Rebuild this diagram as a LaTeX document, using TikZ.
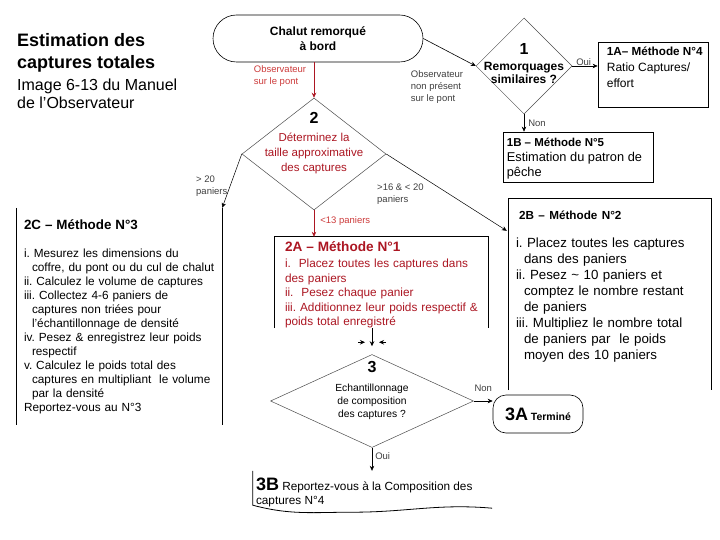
\documentclass[tikz,border=0pt]{standalone}
\usepackage{fontspec}
\setmainfont{Liberation Sans}
\usetikzlibrary{positioning, arrows.meta, calc, shapes.geometric, shapes.misc}
\definecolor{methred}{RGB}{172,22,34}
\definecolor{notered}{RGB}{205,60,60}
\newcommand{\fsz}[2]{\fontsize{#1}{#2}\selectfont}
\newcommand{\ind}{\hspace*{8pt}}
\frenchspacing

\begin{document}
\begin{tikzpicture}[x=1pt, y=-1pt, >={Stealth[length=5pt, width=4.5pt]},
  every node/.append style={inner sep=0pt},
  decision/.style={diamond, draw=black!70, line width=0.5pt},
  methbox/.style={draw, line width=0.7pt},
  btext/.style={anchor=north west, align=left},
  note/.style={font=\fsz{9.5}{12}, align=left, text=black!75},
  flow/.style={->, line width=0.6pt},
  redflow/.style={->, line width=0.6pt, draw=methred}]
  \useasboundingbox[fill=white] (0,0) rectangle (720,540);

  % title
  \node[btext, font=\fsz{18}{22}\bfseries] (title) at (17,33.5) {Estimation des\\ captures totales};
  \node[btext, font=\fsz{16}{18}] (source) at (17,79) {Image 6-13 du Manuel\\ de l'Observateur};

  % start
  \node[rounded rectangle, draw, line width=0.6pt, minimum width=210pt, minimum height=47pt, align=center, font=\fsz{12}{15}\bfseries] (haul) at (318,38.5) {Chalut remorqué\\ à bord};

  % decisions
  \node[decision, minimum width=96pt, minimum height=96pt] (q1) at (524,66) {};
  \node[font=\fsz{16}{18}\bfseries] (q1num) at ($(q1)+(0,-17)$) {1};
  \node[font=\fsz{12}{13.5}\bfseries, align=center] (q1txt) at ($(q1)+(0,7)$) {Remorquages\\ similaires ?};

  \node[decision, minimum width=144pt, minimum height=112pt] (q2) at (314,154) {};
  \node[font=\fsz{16}{18}\bfseries] (q2num) at ($(q2)+(0,-36)$) {2};
  \node[font=\fsz{11.5}{15}, align=center, text=methred] (q2txt) at ($(q2)+(0,-1)$) {Déterminez la\\ taille approximative\\ des captures};

  \node[decision, minimum width=203pt, minimum height=93pt] (q3) at (372,401) {};
  \node[font=\fsz{16}{18}\bfseries] (q3num) at ($(q3)+(0,-34)$) {3};
  \node[font=\fsz{10.3}{13}, align=center] (q3txt) at ($(q3)+(0,1)$) {Echantillonnage\\ de composition\\ des captures ?};

  % method boxes
  \node[methbox, minimum width=110pt, minimum height=65pt] (m1A) at (653,74.5) {};
  \node[btext, font=\fsz{12}{16}] (m1Atxt) at ($(m1A.north west)+(9,5.5)$) {\textbf{\fsz{11.7}{16}1A– Méthode N°4}\\ Ratio Captures/\\ effort};

  \node[methbox, minimum width=150pt, minimum height=50pt] (m1B) at (578,157) {};
  \node[btext, font=\fsz{12.8}{15}] (m1Btxt) at ($(m1B.north west)+(4,6.5)$) {\textbf{\fsz{11.5}{15}1B – Méthode N°5}\\ Estimation du patron de\\ pêche};

  \node[minimum width=205pt, minimum height=217pt] (m2C) at (119.5,316.5) {};
  \node[btext, text width=200pt, font=\fsz{11.8}{14}] (m2Ctxt) at ($(m2C.north west)+(7,12)$) {{\fsz{13.4}{14}\bfseries 2C – Méthode N°3}\\[14pt]
    i. Mesurez les dimensions du\\
    \ind coffre, du pont ou du cul de chalut\\
    ii. Calculez le volume de captures\\
    iii. Collectez 4-6 paniers de\\
    \ind captures non triées pour\\
    \ind l'échantillonnage de densité\\
    iv. Pesez \& enregistrez leur poids\\
    \ind respectif\\
    v. Calculez le poids total des\\
    \ind captures en multipliant\ \ le volume\\
    \ind par la densité\\
    Reportez-vous au N°3};

  \node[minimum width=213pt, minimum height=91pt] (m2A) at (381.5,282.5) {};
  \node[btext, text width=205pt, font=\fsz{11.8}{14.5}, text=methred] (m2Atxt) at ($(m2A.north west)+(10,5)$) {{\fsz{13.6}{14.5}\bfseries 2A – Méthode N°1}\\[1.5pt]
    i.\ \ Placez toutes les captures dans\\
    des paniers\\
    ii.\ \ Pesez chaque panier\\
    iii. Additionnez leur poids respectif \&\\
    poids total enregistré};

  \node[minimum width=202pt, minimum height=191pt] (m2B) at (610,294.5) {};
  \node[btext, text width=195pt, font=\fsz{13.3}{16}] (m2Btxt) at ($(m2B.north west)+(7,11.5)$) {{\fsz{11.7}{16}\bfseries\hspace*{3pt}2B – Méthode N°2}\\[12pt]
    i. Placez toutes les captures\\
    \ind dans des paniers\\
    ii. Pesez \textasciitilde{} 10 paniers et\\
    \ind comptez le nombre restant\\
    \ind de paniers\\
    iii. Multipliez le nombre total\\
    \ind de paniers par\ \ le poids\\
    \ind moyen des 10 paniers};

  \node[draw, line width=0.6pt, rounded corners=13pt, minimum width=90pt, minimum height=38pt] (m3A) at (538,414) {\textbf{\fsz{18}{18}3A} \textbf{\fsz{10.5}{12}Terminé}};

  \node[minimum width=239pt, minimum height=34pt] (m3B) at (372.5,488) {};
  \node[btext, font=\fsz{11.8}{14}] (m3Btxt) at ($(m3B.north west)+(3,6.5)$) {\textbf{\fsz{18}{14}3B} Reportez-vous à la Composition des\\ captures N°4};
  \coordinate (waveDip) at ($(m3B.south)+(-20,7)$);
  \coordinate (waveEnd) at ($(m3B.south east)+(0,3)$);

  % open outlines
  \draw[line width=0.8pt] (m2C.north west) -- (m2C.south west);
  \draw[line width=0.8pt] (m2C.north east) -- (m2C.south east);
  \draw[line width=0.8pt] (m2A.south west) -- (m2A.north west) -- (m2A.north east) -- (m2A.south east);
  \draw[line width=0.8pt] (m2B.south west) -- (m2B.north west) -- (m2B.north east) -- (m2B.south east);
  \draw[line width=0.8pt] (m3B.north west) -- (m3B.south west) to[out=-15, in=180] (waveDip) to[out=0, in=175] (waveEnd);

  % connectors
  \draw[redflow] (haul.south -| q2.north) -- (q2.north);
  \node[note, text=notered] (lblObs) at (280,76) {Observateur\\ sur le pont};
  \draw[flow] (haul.east) -- (q1.west);
  \node[note] (lblAway) at (437,87) {Observateur\\ non présent\\ sur le pont};
  \draw[flow] (q1.east) -- (q1.east -| m1A.west) node[pos=0.45, anchor=south, note] {Oui};
  \draw[flow] (q1.south) -- (q1.south |- m1B.north) node[pos=0.5, right=4pt, note] {Non};

  \draw[flow, line width=0.5pt] (q2.west) -- (m2C.north east);
  \node[note, anchor=north west] (lbl20) at (196,176) {> 20\\ paniers};
  \coordinate (c2B) at ($(m2B.north west)+(-2,32)$);
  \draw[flow, line width=0.5pt] (q2.east) -- (c2B);
  \node[note, anchor=north west] (lbl16) at (377,184) {>16 \& < 20\\ paniers};
  \draw[redflow] (q2.south) -- (q2.south |- m2A.north) node[pos=0.4, right=6pt, note, text=notered] {<13 paniers};

  \draw[flow] (m2A.south -| q3.north) -- ($(q3.north)+(0,-8)$);
  \coordinate (jLa) at ($(q3.north)+(-14,-12)$);
  \coordinate (jLb) at ($(q3.north)+(-7,-12)$);
  \coordinate (jRa) at ($(q3.north)+(14,-12)$);
  \coordinate (jRb) at ($(q3.north)+(7,-12)$);
  \draw[flow] (jLa) -- (jLb);
  \draw[flow] (jRa) -- (jRb);

  \draw[flow] (q3.east) -- (q3.east -| m3A.west) node[midway, above=9pt, note] {Non};
  \draw[flow] (q3.south) -- (q3.south |- m3B.north) node[pos=0.35, right=3pt, note] {Oui};
\end{tikzpicture}
\end{document}
